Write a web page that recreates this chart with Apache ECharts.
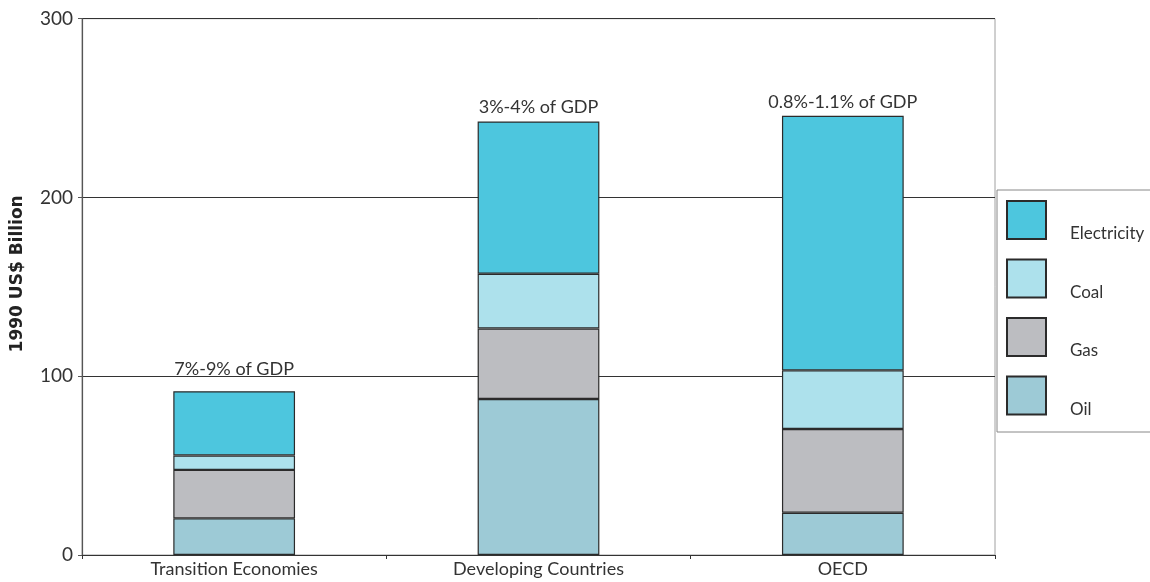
<!DOCTYPE html>
<html>
<head>
<meta charset="utf-8">
<script src="https://cdn.jsdelivr.net/npm/echarts@6/dist/echarts.min.js"></script>
<style>
  html, body { margin: 0; padding: 0; background: #fff; }
  #chart { width: 1150px; height: 582px; }
</style>
</head>
<body>
<div id="chart"></div>
<script>
// Energy subsidies by region (1990 US$ billion), stacked by fuel
const regions = ['Transition Economies', 'Developing Countries', 'OECD'];
const oil = [20.5, 87.3, 23.6];
const gas = [27.1, 39.4, 46.9];
const coal = [8.1, 30.6, 32.8];
const electricity = [35.9, 85.2, 142.4];
const gdpShare = ['7%-9% of GDP', '3%-4% of GDP', '0.8%-1.1% of GDP'];
const yTicks = [0, 100, 200, 300];

// gap between each share label and the top of its bar
const shareLabelGap = [13, 5, 5];

const FONT = 'Lato';
const colors = {
  Oil: '#9DCAD6',
  Gas: '#BCBDC1',
  Coal: '#ADE1EC',
  Electricity: '#4DC6DE'
};

function stackSeries(name, values, withLabel) {
  return {
    name: name,
    type: 'bar',
    stack: 'total',
    barWidth: '40%',
    itemStyle: { color: colors[name], borderColor: '#2b2b2b', borderWidth: 1.2 },
    emphasis: { disabled: true },
    z: 3,
    data: values.map((v, i) => withLabel ? {
      value: v,
      label: {
        show: true,
        position: 'top',
        distance: shareLabelGap[i],
        formatter: gdpShare[i],
        fontFamily: FONT,
        fontSize: 18,
        color: '#333'
      }
    } : v)
  };
}

const chart = echarts.init(document.getElementById('chart'));
chart.setOption({
  animation: false,
  backgroundColor: '#fff',
  grid: {
    left: 82, right: 155, top: 18.7, bottom: 27,
    show: true, borderColor: '#a0a0a0', borderWidth: 1
  },
  xAxis: {
    type: 'category',
    data: regions,
    boundaryGap: true,
    axisLine: { lineStyle: { color: '#333', width: 1.2 } },
    axisTick: { show: true, length: 4, lineStyle: { color: '#333' } },
    axisLabel: { fontFamily: FONT, fontSize: 18, color: '#333', margin: 5 }
  },
  yAxis: {
    type: 'value',
    min: yTicks[0],
    max: yTicks[yTicks.length - 1],
    interval: 100,
    name: '1990 US$ Billion',
    nameLocation: 'middle',
    nameGap: 56,
    nameTextStyle: {
      fontFamily: 'DejaVu Sans', fontSize: 17, fontWeight: 'bold', color: '#222',
      padding: [0, 0, 0, 26]
    },
    axisLine: { show: true, lineStyle: { color: '#555', width: 1.2 } },
    axisTick: { show: true, length: 4, lineStyle: { color: '#555' } },
    axisLabel: { fontFamily: FONT, fontSize: 19, color: '#333', margin: 9 },
    splitLine: { show: true, lineStyle: { color: '#333', width: 1 } }
  },
  legend: {
    orient: 'vertical',
    left: 997,
    top: 190,
    data: ['Electricity', 'Coal', 'Gas', 'Oil'],
    icon: 'rect',
    itemWidth: 39,
    itemHeight: 38,
    itemGap: 16,
    padding: [10, 60, 14, 9],
    backgroundColor: '#fff',
    borderColor: '#888',
    borderWidth: 1,
    selectedMode: false,
    formatter: '{t|{name}}',
    textStyle: {
      fontFamily: FONT, fontSize: 17, color: '#333',
      rich: { t: { fontFamily: FONT, fontSize: 17, color: '#333', padding: [28, 0, 0, 19] } }
    }
  },
  series: [
    stackSeries('Oil', oil, false),
    stackSeries('Gas', gas, false),
    stackSeries('Coal', coal, false),
    stackSeries('Electricity', electricity, true)
  ]
});
</script>
</body>
</html>
